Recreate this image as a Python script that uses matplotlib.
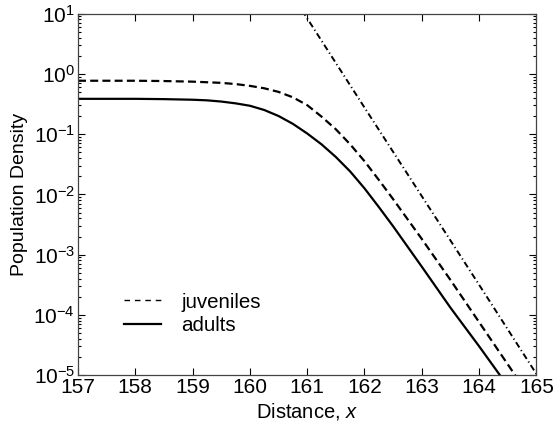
import numpy as np
import matplotlib
matplotlib.use("Agg")
import matplotlib.pyplot as plt
from matplotlib.ticker import LogLocator, NullFormatter

plt.rcParams['font.family'] = ['Liberation Sans', 'DejaVu Sans']
plt.rcParams['mathtext.fontset'] = 'custom'
plt.rcParams['mathtext.rm'] = 'Liberation Sans'
plt.rcParams['mathtext.it'] = 'Liberation Sans:italic'
plt.rcParams['mathtext.default'] = 'regular'

x_adult = [157, 158, 158.5, 159, 159.25, 159.5, 159.75, 160, 160.25, 160.5, 160.75,
           161, 161.25, 161.5, 161.75, 162, 162.25, 162.5, 163, 163.5, 164, 164.5]
log_adult = [-0.415, -0.415, -0.42, -0.43, -0.44, -0.46, -0.49, -0.53, -0.60, -0.70, -0.83,
             -0.99, -1.17, -1.38, -1.62, -1.90, -2.21, -2.53, -3.20, -3.88, -4.52, -5.18]

# juveniles (dashed)
x_juv = [157, 158, 158.5, 159, 159.25, 159.5, 159.75, 160, 160.25, 160.5, 160.75,
         161, 161.25, 161.5, 161.75, 162, 162.25, 162.5, 163, 163.5, 164, 164.5, 164.75]
log_juv = [-0.115, -0.115, -0.12, -0.13, -0.14, -0.15, -0.17, -0.20, -0.24, -0.30, -0.39,
           -0.52, -0.71, -0.92, -1.17, -1.45, -1.76, -2.08, -2.74, -3.42, -4.12, -4.82, -5.17]

# asymptote (dash-dot)
x_asym = [160.5, 161, 162, 163, 164, 165]
log_asym = [1.66, 0.92, -0.56, -2.03, -3.50, -4.98]

xticks = [157, 158, 159, 160, 161, 162, 163, 164, 165]

fig = plt.figure(figsize=(5.53, 4.23), dpi=100)
ax = fig.add_axes([0.141, 0.113, 0.829, 0.855])

ax.plot(x_juv, 10 ** np.array(log_juv), color='black', lw=1.6,
        linestyle=(0, (3.6, 1.9)), label='juveniles')
ax.plot(x_adult, 10 ** np.array(log_adult), color='black', lw=1.6,
        linestyle='-', label='adults')
ax.plot(x_asym, 10 ** np.array(log_asym), color='black', lw=1.4,
        linestyle=(0, (3.2, 1.6, 0.6, 1.6)))

ax.set_yscale('log')
ax.set_xlim(157, 165)
ax.set_ylim(1e-5, 1e1)
ax.set_xticks(xticks)
ax.set_xticklabels([str(t) for t in xticks])
ax.yaxis.set_major_locator(LogLocator(base=10, numticks=10))
ax.yaxis.set_minor_locator(LogLocator(base=10, subs=np.arange(2, 10), numticks=20))
ax.yaxis.set_minor_formatter(NullFormatter())

ax.tick_params(which='both', direction='in', top=True, right=True,
               labelsize=15, width=0.8)
ax.tick_params(which='major', length=5)
ax.tick_params(axis='x', which='major', pad=2)
ax.tick_params(axis='y', which='major', pad=2)
ax.tick_params(which='minor', length=2.5)
for s in ax.spines.values():
    s.set_linewidth(0.9)
    s.set_color('#444444')

ax.set_xlabel('Distance, $\\it{x}$', fontsize=14.5, labelpad=3)
ax.set_ylabel('Population Density', fontsize=14, labelpad=4)

leg = ax.legend(loc='center left', bbox_to_anchor=(0.1, 0.17), frameon=False,
                fontsize=14.8, handlelength=1.8, handletextpad=1.0,
                labelspacing=0.2, borderpad=0, borderaxespad=0)
leg.get_lines()[0].set_linewidth(1.0)
leg.get_lines()[0].set_linestyle((0, (4, 3.5)))

fig.savefig('out.png', dpi=100)
